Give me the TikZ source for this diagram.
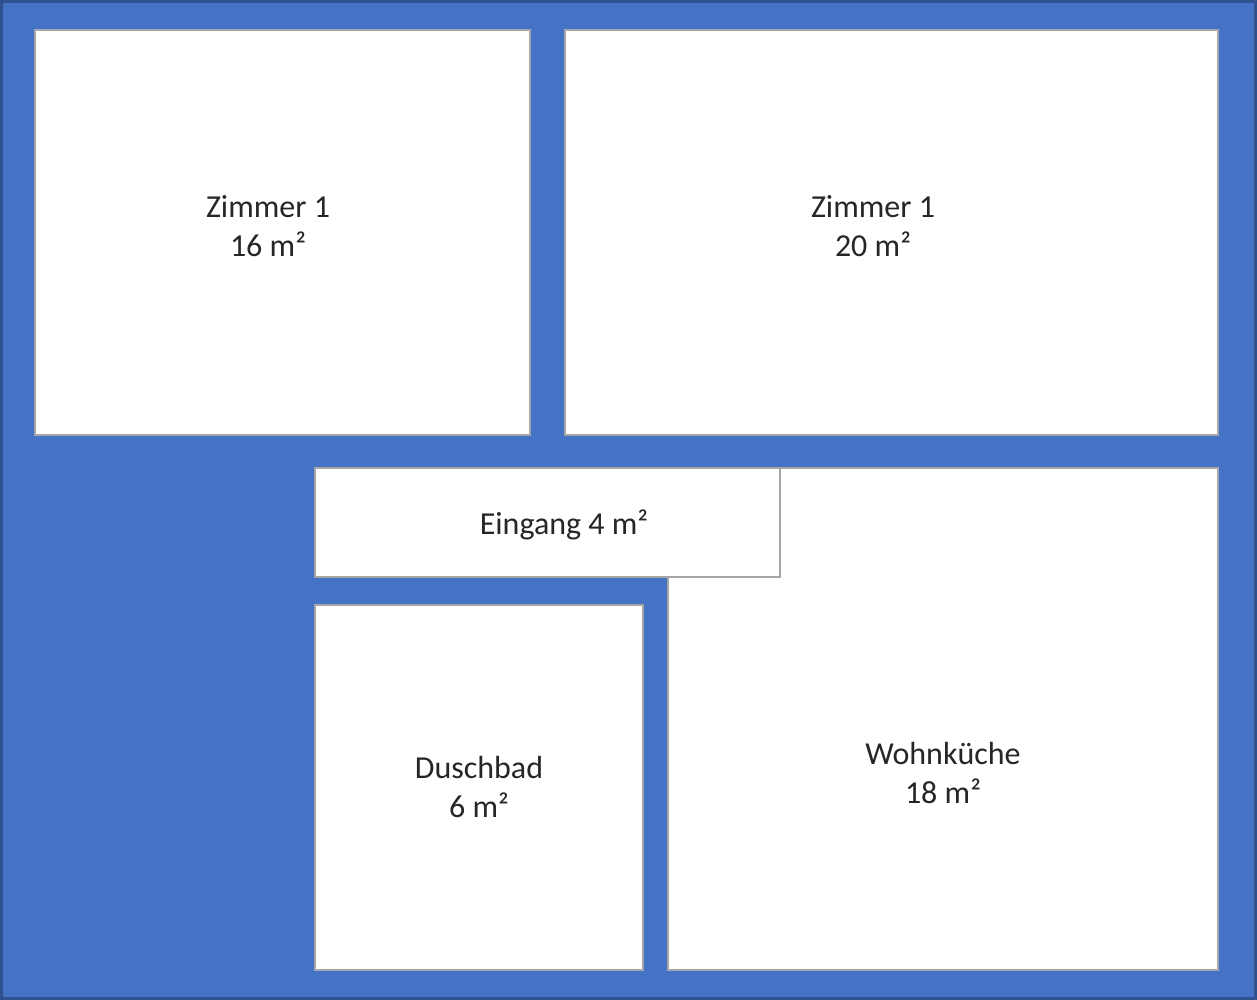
\documentclass[tikz,border=0pt]{standalone}
\usepackage{fontspec}
\setmainfont{Carlito}
\definecolor{planblue}{HTML}{4472C4}
\definecolor{edge}{HTML}{2F528F}
\begin{document}
\begin{tikzpicture}[x=1pt,y=-1pt,
  room/.style={fill=white,draw=gray!70,line width=1.2pt},
  lbl/.style={font=\fontsize{32}{39}\selectfont,align=center,text=black!85}]
\useasboundingbox (0,0) rectangle (1257,1000);
\fill[planblue,draw=edge,line width=3pt] (1.5,1.5) rectangle (1255.5,998.5);
\draw[room] (35,30) rectangle (530,435);
\draw[room] (565,30) rectangle (1218,435);
\draw[room] (668,468) rectangle (1218,970);
\draw[room] (315,605) rectangle (643,970);
\draw[room] (315,468) rectangle (780,577);
\node[lbl] (z1) at (268,226) {Zimmer 1\\16 m²};
\node[lbl] (z2) at (873,226) {Zimmer 1\\20 m²};
\node[lbl] (ein) at (564,525) {Eingang 4 m²};
\node[lbl] (dusch) at (479,787) {Duschbad\\6 m²};
\node[lbl] (wohn) at (943,773) {Wohnküche\\18 m²};
\end{tikzpicture}
\end{document}
